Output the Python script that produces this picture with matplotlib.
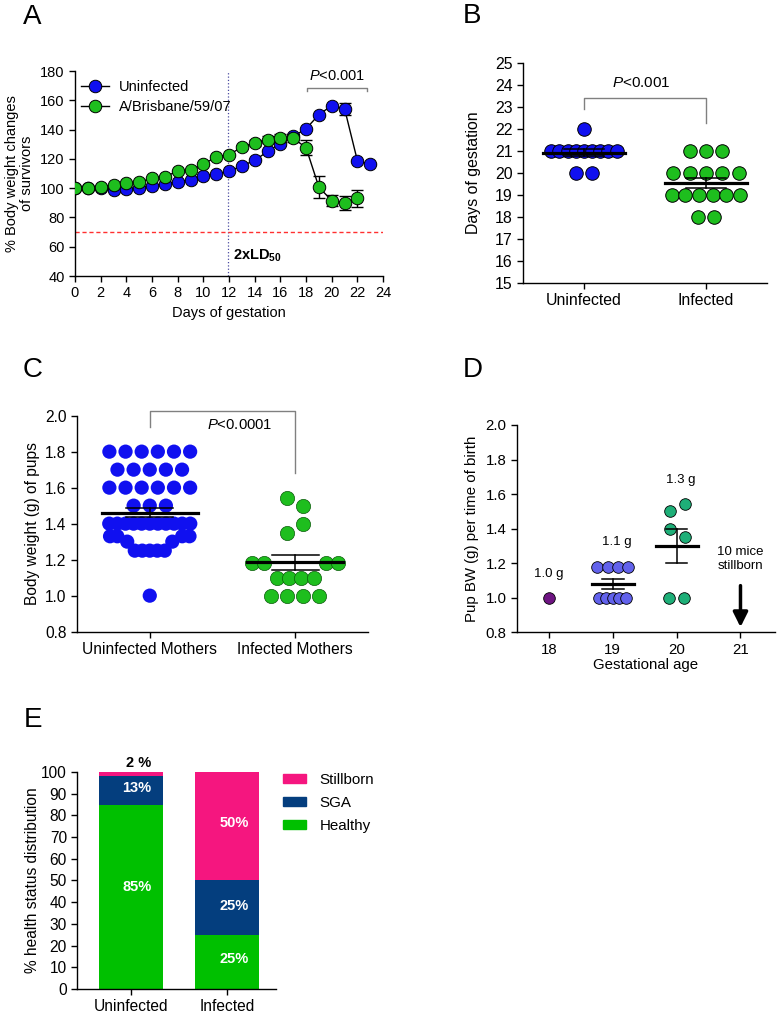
import matplotlib
matplotlib.use('Agg')
import matplotlib.pyplot as plt
from matplotlib.lines import Line2D
from matplotlib.patches import Patch
import numpy as np

plt.rcParams['font.family'] = 'Liberation Sans'
plt.rcParams['mathtext.fontset'] = 'custom'
plt.rcParams['mathtext.rm'] = 'Liberation Sans'
plt.rcParams['mathtext.it'] = 'Liberation Sans:italic'
plt.rcParams['mathtext.bf'] = 'Liberation Sans:bold'
plt.rcParams['font.size'] = 10.5

# ---- data ----
# A: weight change curves
days_u = [0, 1, 2, 3, 4, 5, 6, 7, 8, 9, 10, 11, 12, 13, 14, 15, 16, 17, 18, 19, 20, 21, 22, 23]
weight_u = [100, 100, 100, 99, 99.3, 100, 101.8, 103, 104.3, 105.9, 108.2, 110, 111.4, 115.3,
            118.9, 125.1, 130.5, 135.3, 140.6, 150.2, 156.4, 154.3, 118.7, 116.4]
err_u = [0, 0, 0, 0, 0, 0, 0, 0, 0, 0, 0, 0, 0, 0, 0, 0, 2, 2, 0, 0, 0, 4, 0, 0]
days_i = [0, 1, 2, 3, 4, 5, 6, 7, 8, 9, 10, 11, 12, 13, 14, 15, 16, 17, 18, 19, 20, 21, 22]
weight_i = [100, 100, 100.7, 102.3, 103.2, 104.1, 106.8, 107.8, 111.6, 112.3, 116.2, 121.5,
            122.8, 128.1, 131, 133.1, 134.2, 134.2, 127.6, 100.7, 91.5, 90, 93]
err_i = [0, 0, 0, 0, 0, 0, 0, 0, 0, 0, 0, 0, 0, 1.5, 2, 2.5, 3, 3, 5, 7.5, 4, 5, 6]

# B: days of gestation
b_groups = ['Uninfected', 'Infected']
b_uninf = [22, 21, 21, 21, 21, 21, 21, 21, 21, 21, 20, 20]
b_inf = [21, 21, 21, 20, 20, 20, 20, 20, 19, 19, 19, 19, 19, 19, 18, 18]
b_mean = [20.92, 19.56]
b_sem = [0.15, 0.23]

# C: pup body weight
c_groups = ['Uninfected Mothers', 'Infected Mothers']
c_uninf = [1.8, 1.8, 1.8, 1.8, 1.8, 1.8, 1.7, 1.7, 1.7, 1.7, 1.7,
           1.6, 1.6, 1.6, 1.6, 1.6, 1.6, 1.5, 1.5, 1.5,
           1.4, 1.4, 1.4, 1.4, 1.4, 1.4, 1.4, 1.4, 1.4, 1.4, 1.4,
           1.33, 1.33, 1.33, 1.33, 1.3, 1.3, 1.25, 1.25, 1.25, 1.25, 1.25, 1.0]
c_inf = [1.54, 1.5, 1.4, 1.35, 1.18, 1.18, 1.18, 1.18, 1.1, 1.1, 1.1, 1.1, 1.0, 1.0, 1.0, 1.0]
c_mean = [1.46, 1.185]
c_sem = [0.025, 0.042]

# D: pup BW per gestational age
d_ages = [18, 19, 20]
d_vals = [[1.0],
          [1.18, 1.18, 1.18, 1.18, 1.0, 1.0, 1.0, 1.0, 1.0],
          [1.54, 1.5, 1.4, 1.35, 1.0, 1.0]]
d_mean = [1.0, 1.08, 1.30]
d_sem = [0.0, 0.03, 0.10]
d_labels = ['1.0 g', '1.1 g', '1.3 g']
d_label_y = [1.14, 1.32, 1.68]

# E: health status
e_groups = ['Uninfected', 'Infected']
healthy = [85, 25]
sga = [13, 25]
stillborn = [2, 50]

blue = '#1010F0'
green = '#1EBE1E'
d_colors = ['#6E1482', '#6262EC', '#1EAF78']
e_green, e_navy, e_pink = '#00C000', '#043E7E', '#F5167F'


def row_offsets(n, s, gap=0.0, shift=0.0):
    if gap:
        k = n // 2
        right = [gap + s * i for i in range(k)]
        left = [-r for r in right[::-1]]
        return [o + shift for o in left + right]
    return [(i - (n - 1) / 2) * s + shift for i in range(n)]


def swarm(values, step, steps={}, gaps={}, shifts={}):
    xs = []
    seen = []
    for v in values:
        if v in seen:
            continue
        seen.append(v)
        n = values.count(v)
        xs += row_offsets(n, steps.get(v, step), gaps.get(v, 0.0), shifts.get(v, 0.0))
    return np.array(xs)


def style(ax, fs):
    for s in ['top', 'right']:
        ax.spines[s].set_visible(False)
    ax.spines['left'].set_linewidth(1)
    ax.spines['bottom'].set_linewidth(1)
    ax.tick_params(direction='out', length=4, width=1, labelsize=fs)


def mean_sem(ax, x, m, e, half=0.33, cap=0.165):
    ax.plot([x - half, x + half], [m, m], color='k', lw=2.3, zorder=5)
    if e > 0:
        ax.plot([x, x], [m - e, m + e], color='k', lw=1.1, zorder=5)
        ax.plot([x - cap, x + cap], [m + e, m + e], color='k', lw=1.1, zorder=5)
        ax.plot([x - cap, x + cap], [m - e, m - e], color='k', lw=1.1, zorder=5)


fig = plt.figure(figsize=(7.78, 10.16), dpi=100)

# ---- A ----
fs = 10.5
ax = fig.add_axes([0.0964, 0.7283, 0.396, 0.2018])
ax.plot(days_u, weight_u, color='k', lw=1, zorder=2)
ax.errorbar(days_u, weight_u, yerr=err_u, fmt='none', ecolor='k', elinewidth=1, capsize=4, zorder=2)
ax.plot(days_u, weight_u, 'o', ms=9, mfc=blue, mec='k', mew=0.7, zorder=3)
ax.plot(days_i, weight_i, color='k', lw=1, zorder=4)
ax.errorbar(days_i, weight_i, yerr=err_i, fmt='none', ecolor='k', elinewidth=1, capsize=4, zorder=4)
ax.plot(days_i, weight_i, 'o', ms=9, mfc=green, mec='k', mew=0.7, zorder=5)
ax.axvline(11.9, color='#4a4aa0', lw=0.9, ls=':', zorder=1)
ax.axhline(70, color='#ff3030', lw=1, ls=(0, (3, 2)), zorder=1)
ax.plot([18.1, 18.1, 22.75, 22.75], [166.3, 168.3, 168.3, 166.3], color='#808080', lw=1)
ax.text(20.4, 172, r'$\mathit{P}$<0.001', ha='center', va='bottom', fontsize=fs)
ax.text(12.3, 54, r'$\mathbf{2xLD_{50}}$', ha='left', va='center', fontsize=fs)
ax.set_xlim(0, 24)
ax.set_ylim(40, 180)
ax.set_xticks(range(0, 25, 2))
ax.set_yticks(range(40, 181, 20))
ax.set_xlabel('Days of gestation', fontsize=fs)
ax.set_ylabel('% Body weight changes\nof survivors', fontsize=fs, linespacing=1.15)
handles = [Line2D([0], [0], color='k', lw=1, marker='o', ms=9, mfc=blue, mec='k', mew=0.7),
           Line2D([0], [0], color='k', lw=1, marker='o', ms=9, mfc=green, mec='k', mew=0.7)]
ax.legend(handles, ['Uninfected', 'A/Brisbane/59/07'], loc='upper left', bbox_to_anchor=(0.0, 0.985),
          frameon=False, handlelength=1.9, handletextpad=0.7, labelspacing=0.45, fontsize=10.5,
          borderaxespad=0)
style(ax, fs)

# ---- B ----
fs = 11.4
ax = fig.add_axes([0.6722, 0.7215, 0.3136, 0.2165])
xu = swarm(b_uninf, 0.134, steps={21: 0.067})
xi = swarm(b_inf, 0.134, steps={19: 0.112})
ax.scatter(0 + xu, b_uninf, s=95, c=blue, edgecolors='k', linewidths=0.7, zorder=3)
ax.scatter(1 + xi, b_inf, s=95, c=green, edgecolors='k', linewidths=0.7, zorder=3)
for k in range(2):
    mean_sem(ax, k, b_mean[k], b_sem[k], half=0.335, cap=0.165)
ax.plot([0, 0, 1, 1], [22.9, 23.42, 23.42, 22.25], color='#808080', lw=1)
ax.text(0.47, 24.1, r'$\mathit{P}$<0.001', ha='center', va='center', fontsize=11)
ax.set_xlim(-0.5, 1.5)
ax.set_ylim(15, 25)
ax.set_yticks(range(15, 26))
ax.set_xticks([0, 1])
ax.set_xticklabels(b_groups)
ax.set_ylabel('Days of gestation', fontsize=fs, labelpad=10)
style(ax, fs)

# ---- C ----
fs = 11.2
ax = fig.add_axes([0.099, 0.3783, 0.374, 0.2126])
xu = swarm(c_uninf, 0.111, steps={1.4: 0.0557, 1.33: 0.05, 1.25: 0.0515},
           gaps={1.33: 0.223, 1.3: 0.155})
xi = swarm(c_inf, 0.111, steps={1.18: 0.082, 1.1: 0.084},
           gaps={1.18: 0.213}, shifts={1.54: -0.06, 1.5: 0.05, 1.4: 0.05, 1.35: -0.06})
ax.scatter(0 + xu, c_uninf, s=105, c=blue, edgecolors='none', zorder=3)
ax.scatter(1 + xi, c_inf, s=105, c=green, edgecolors='#0a5a0a', linewidths=0.5, zorder=3)
for k in range(2):
    mean_sem(ax, k, c_mean[k], c_sem[k], half=0.33, cap=0.163)
ax.plot([0, 0, 1, 1], [1.935, 2.026, 2.026, 1.683], color='#808080', lw=1, clip_on=False)
ax.text(0.62, 1.95, r'$\mathit{P}$<0.0001', ha='center', va='center', fontsize=10.7)
ax.set_xlim(-0.5, 1.5)
ax.set_ylim(0.8, 2.0)
ax.set_yticks(np.arange(0.8, 2.01, 0.2))
ax.set_yticklabels(['%.1f' % t for t in np.arange(0.8, 2.01, 0.2)])
ax.set_xticks([0, 1])
ax.set_xticklabels(c_groups)
ax.set_ylabel('Body weight (g) of pups', fontsize=fs)
style(ax, fs)

# ---- D ----
fs = 10.8
ax = fig.add_axes([0.6645, 0.3777, 0.3316, 0.204])
d_steps = [{}, {1.18: 0.163, 1.0: 0.105}, {1.0: 0.24}]
d_shifts = [{}, {}, {1.54: 0.13, 1.5: -0.11, 1.4: -0.11, 1.35: 0.13}]
for k, age in enumerate(d_ages):
    xo = swarm(d_vals[k], 0.1, steps=d_steps[k], shifts=d_shifts[k])
    ax.scatter(age + xo, d_vals[k], s=70, c=d_colors[k], edgecolors='k', linewidths=0.6, zorder=3)
    if k > 0:
        mean_sem(ax, age, d_mean[k], d_sem[k], half=0.33, cap=0.17)
    ax.text(age + (0.07 if k else 0), d_label_y[k], d_labels[k], ha='center', va='center', fontsize=9.5)
ax.text(21, 1.225, '10 mice\nstillborn', ha='center', va='center', fontsize=9.5, linespacing=1.25)
ax.annotate('', xy=(21, 0.83), xytext=(21, 1.07),
            arrowprops=dict(arrowstyle='-|>', lw=2.5, color='k', mutation_scale=22, shrinkA=0, shrinkB=0))
ax.set_xlim(17.5, 21.54)
ax.set_ylim(0.8, 2.0)
ax.set_xticks([18, 19, 20, 21])
ax.set_yticks(np.arange(0.8, 2.01, 0.2))
ax.set_yticklabels(['%.1f' % t for t in np.arange(0.8, 2.01, 0.2)])
ax.set_xlabel('Gestational age', fontsize=fs, labelpad=1)
ax.set_ylabel('Pup BW (g) per time of birth', fontsize=fs, labelpad=5)
style(ax, fs)

# ---- E ----
fs = 11.2
ax = fig.add_axes([0.0994, 0.0266, 0.2554, 0.2136])
x = np.arange(len(e_groups))
bottom2 = np.array(healthy) + np.array(sga)
ax.bar(x, healthy, width=0.67, color=e_green, label='Healthy')
ax.bar(x, sga, width=0.67, bottom=healthy, color=e_navy, label='SGA')
ax.bar(x, stillborn, width=0.67, bottom=bottom2, color=e_pink, label='Stillborn')
wb = dict(color='white', fontweight='bold', fontsize=10.5, ha='center', va='center')
ax.text(0.06, healthy[0] / 2 + 4.5, '%d%%' % healthy[0], **wb)
ax.text(0.06, healthy[0] + sga[0] / 2 + 1, '%d%%' % sga[0], **wb)
ax.text(0.08, 104, '%d %%' % stillborn[0], color='k', fontweight='bold', fontsize=10.5,
        ha='center', va='center')
ax.text(1.07, healthy[1] / 2 + 1.2, '%d%%' % healthy[1], **wb)
ax.text(1.07, healthy[1] + sga[1] / 2 + 0.9, '%d%%' % sga[1], **wb)
ax.text(1.07, bottom2[1] + stillborn[1] / 2 + 1.3, '%d%%' % stillborn[1], **wb)
ax.set_xlim(-0.5625, 1.51)
ax.set_ylim(0, 100)
ax.set_yticks(range(0, 101, 10))
ax.set_xticks(x)
ax.set_xticklabels(e_groups)
ax.set_ylabel('% health status distribution', fontsize=fs, labelpad=1)
leg_handles = [Patch(color=e_pink), Patch(color=e_navy), Patch(color=e_green)]
ax.legend(leg_handles, ['Stillborn', 'SGA', 'Healthy'], loc='upper left', bbox_to_anchor=(0.965, 1.06),
          frameon=False, handlelength=1.55, handleheight=0.55, handletextpad=0.9, labelspacing=0.6,
          fontsize=10.9)
style(ax, fs)

# panel letters
for lab, px, py in [('A', 23, 24), ('B', 463, 23), ('C', 23, 377), ('D', 463, 377), ('E', 24, 727)]:
    fig.text(px / 778, 1 - py / 1016, lab, fontsize=20, ha='left', va='baseline')

fig.savefig('out.png', dpi=100)
